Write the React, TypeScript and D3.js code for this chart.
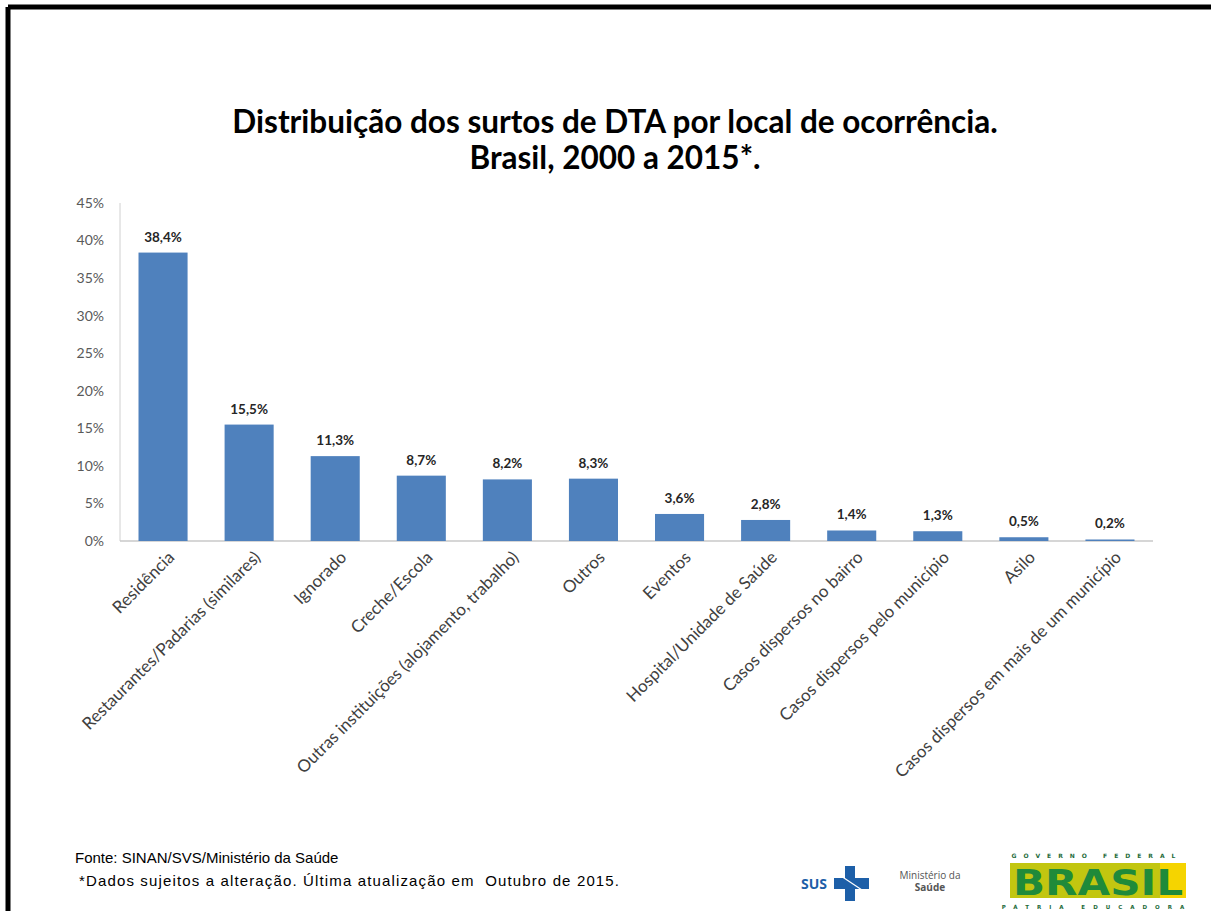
import React from "react";
import * as d3 from "d3";

const categories: string[] = [
  "Residência",
  "Restaurantes/Padarias (similares)",
  "Ignorado",
  "Creche/Escola",
  "Outras instituições (alojamento, trabalho)",
  "Outros",
  "Eventos",
  "Hospital/Unidade de Saúde",
  "Casos dispersos no bairro",
  "Casos dispersos pelo município",
  "Asilo",
  "Casos dispersos em mais de um município",
];
const values: number[] = [38.4, 15.5, 11.3, 8.7, 8.2, 8.3, 3.6, 2.8, 1.4, 1.3, 0.5, 0.2];
const yTicks: number[] = [0, 5, 10, 15, 20, 25, 30, 35, 40, 45];
const titleLines: string[] = [
  "Distribuição dos surtos de DTA por local de ocorrência.",
  "Brasil, 2000 a 2015*.",
];
const footerLines: string[] = [
  "Fonte: SINAN/SVS/Ministério da Saúde",
  " *Dados sujeitos a alteração. Última atualização em  Outubro de 2015.",
];

const W = 1211;
const H = 911;
const plot = { left: 120, right: 1153, top: 203, bottom: 541 };

export default function App() {
  const x = d3
    .scaleBand<string>()
    .domain(categories)
    .range([plot.left, plot.right])
    .paddingInner(0.43)
    .paddingOuter(0.215);
  const y = d3.scaleLinear().domain([0, 45]).range([plot.bottom, plot.top]);
  const fmt = (v: number) => v.toFixed(1).replace(".", ",") + "%";
  const font = "Lato, 'Open Sans', sans-serif";

  return (
    <div style={{ position: "absolute", left: 0, top: 0 }}>
      <svg width={W} height={H} style={{ display: "block", background: "#fff" }}>
        <rect x={0} y={0} width={W} height={H} fill="#fff" />
        {/* border */}
        <line x1={8} y1={7} x2={W} y2={7} stroke="#000" strokeWidth={5} />
        <line x1={8} y1={7} x2={8} y2={H} stroke="#000" strokeWidth={5} />

        {/* title */}
        {titleLines.map((t, i) => (
          <text
            key={i}
            x={615}
            y={133 + i * 36}
            textAnchor="middle"
            fontFamily={font}
            fontWeight="bold"
            fontSize={31.5}
            fill="#000"
          >
            {t}
          </text>
        ))}

        {/* axes */}
        <line x1={plot.left} y1={plot.top} x2={plot.left} y2={plot.bottom} stroke="#d0d0d0" strokeWidth={1} />
        <line x1={plot.left} y1={plot.bottom} x2={plot.right} y2={plot.bottom} stroke="#c8c8c8" strokeWidth={1.5} />
        {yTicks.map((t) => (
          <text
            key={t}
            x={104}
            y={y(t)}
            dy="0.35em"
            textAnchor="end"
            fontFamily={font}
            fontSize={14}
            fill="#595959"
          >
            {t}%
          </text>
        ))}

        {/* bars */}
        {values.map((v, i) => (
          <rect
            key={i}
            x={x(categories[i])}
            y={y(v)}
            width={x.bandwidth()}
            height={y(0) - y(v)}
            fill="#4F81BD"
          />
        ))}
        {values.map((v, i) => (
          <text
            key={"l" + i}
            x={(x(categories[i]) as number) + x.bandwidth() / 2}
            y={y(v) - 11}
            textAnchor="middle"
            fontFamily={font}
            fontWeight="bold"
            fontSize={13.5}
            fill="#262626"
          >
            {fmt(v)}
          </text>
        ))}

        {/* category labels */}
        {categories.map((c, i) => {
          const cx = (x(c) as number) + x.bandwidth() / 2;
          return (
            <text
              key={"c" + i}
              transform={`translate(${cx + 4},${550}) rotate(-45)`}
              textAnchor="end"
              dy="0.7em"
              fontFamily={font}
              fontSize={17}
              fill="#404040"
            >
              {c}
            </text>
          );
        })}

        {/* footer */}
        <text
          x={75}
          y={863}
          fontFamily="'Liberation Sans', Arial, sans-serif"
          fontSize={15}
          fill="#000"
        >
          {footerLines[0]}
        </text>
        <text
          x={79}
          y={886}
          fontFamily="'Liberation Sans', Arial, sans-serif"
          fontSize={15}
          fill="#000"
          textLength={540}
          lengthAdjust="spacing"
          style={{ whiteSpace: "pre" }}
        >
          {footerLines[1].trim()}
        </text>

        {/* logos */}
        <g>
          <text x={801} y={889} fontFamily="'Open Sans', sans-serif" fontWeight="bold" fontSize={14} fill="#1d5fa8">
            SUS
          </text>
          <rect x={845} y={866} width={10} height={35} fill="#1d5fa8" />
          <rect x={834} y={878} width={35} height={11} fill="#1d5fa8" />
          <line x1={838} y1={874} x2={868} y2={894} stroke="#fff" strokeWidth={1.2} />
        </g>
        <g fontFamily="'Open Sans', sans-serif" fill="#555">
          <text x={930} y={879} textAnchor="middle" fontSize={10}>Ministério da</text>
          <text x={930} y={891} textAnchor="middle" fontSize={10} fontWeight="bold">Saúde</text>
        </g>
        <g>
          <text x={1097} y={858} textAnchor="middle" fontFamily="'DejaVu Sans', sans-serif" fontSize={6} fontWeight="bold" fill="#1d6b3a" letterSpacing={7}>
            GOVERNO FEDERAL
          </text>
          <rect x={1010} y={863} width={176} height={35} fill="#f5d400" />
          <rect x={1010} y={863} width={150} height={35} fill="#2a9a3f" opacity={0.25} />
          <text x={1098} y={895} textAnchor="middle" fontFamily="'DejaVu Sans', sans-serif" fontWeight="bold" fontSize={36} fill="#1f8a3a" textLength={170} lengthAdjust="spacingAndGlyphs">
            BRASIL
          </text>
          <text x={1097} y={909} textAnchor="middle" fontFamily="'DejaVu Sans', sans-serif" fontSize={5.5} fontWeight="bold" fill="#1d6b3a" letterSpacing={8}>
            PÁTRIA EDUCADORA
          </text>
        </g>
      </svg>
    </div>
  );
}
